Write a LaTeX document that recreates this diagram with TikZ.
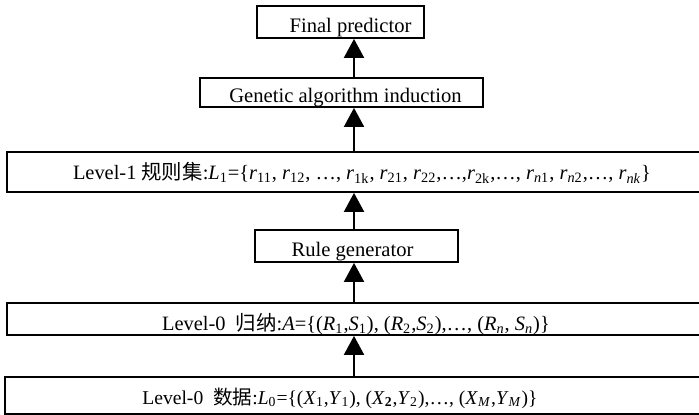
\documentclass[tikz,border=0pt]{standalone}
\usepackage{fontspec}
\setmainfont{Liberation Serif}
\newfontfamily\cjk{Noto Sans CJK SC}
\usetikzlibrary{arrows.meta}
\newcommand{\vr}[2]{\textit{#1}\textsubscript{#2}}

\begin{document}
\begin{tikzpicture}[x=0.5pt,y=-0.5pt,
	box/.style={draw,line width=0.9pt,inner sep=0pt,text depth=0pt,font=\fontsize{10.3}{12}\selectfont},
	lvbox/.style={box,minimum width=349pt,font=\fontsize{10.2}{12}\selectfont},
	up/.style={-{Triangle[width=10pt,length=9.5pt]},line width=1pt}]
	\clip (0,0) rectangle (699,415);
	\node[box,minimum width=83.5pt,minimum height=16pt,text height=11pt] (fp) at (340.5,22) {\hspace*{10pt}Final predictor};
	\node[box,minimum width=141.5pt,minimum height=14.5pt,text height=10.5pt] (gai) at (341.5,92.5) {\hspace*{4pt}Genetic algorithm induction};
	\node[lvbox,minimum height=20pt,text height=8pt] (lv1) at (356,172) {\hspace*{6pt}Level-1 {\cjk 规则集}:\vr{L}{1}=\{\vr{r}{11}, \vr{r}{12}, …, \vr{r}{1k}, \vr{r}{21}, \vr{r}{22},…,\vr{r}{2k},…, \vr{r}{\textit{n}1}, \vr{r}{\textit{n}2},…, \vr{r}{\textit{nk}}\}};
	\node[box,minimum width=101.5pt,minimum height=16pt,text height=11pt] (rg) at (356.5,246) {Rule generator\hspace*{4pt}};
	\node[lvbox,minimum height=16pt,text height=12pt] (lvA) at (356,319) {Level-0\ \ {\cjk 归纳}:\textit{A}=\{(\vr{R}{1},\vr{S}{1}), (\vr{R}{2},\vr{S}{2}),…, (\vr{R}{\textit{n}}, \vr{S}{\textit{n}})\}};
	\node[lvbox,minimum width=350pt,minimum height=18.5pt,text height=8.5pt,font=\fontsize{9.8}{12}\selectfont] (lvD) at (355,395.5) {Level-0\ \ {\cjk 数据}:\vr{L}{0}=\{(\vr{X}{1},\vr{Y}{1}), (\textit{X}\textsubscript{\textbf{2}},\vr{Y}{2}),…, (\vr{X}{\textit{M}},\vr{Y}{\textit{M}})\}\hspace*{15pt}};
	\coordinate (spine) at (354,0);
	\draw[up] (gai.north -| spine) -- (fp.south -| spine);
	\draw[up] (lv1.north -| spine) -- (gai.south -| spine);
	\draw[up] (rg.north -| spine) -- (lv1.south -| spine);
	\draw[up] (lvA.north -| spine) -- (rg.south -| spine);
	\draw[up] (lvD.north -| spine) -- (lvA.south -| spine);
\end{tikzpicture}
\end{document}
